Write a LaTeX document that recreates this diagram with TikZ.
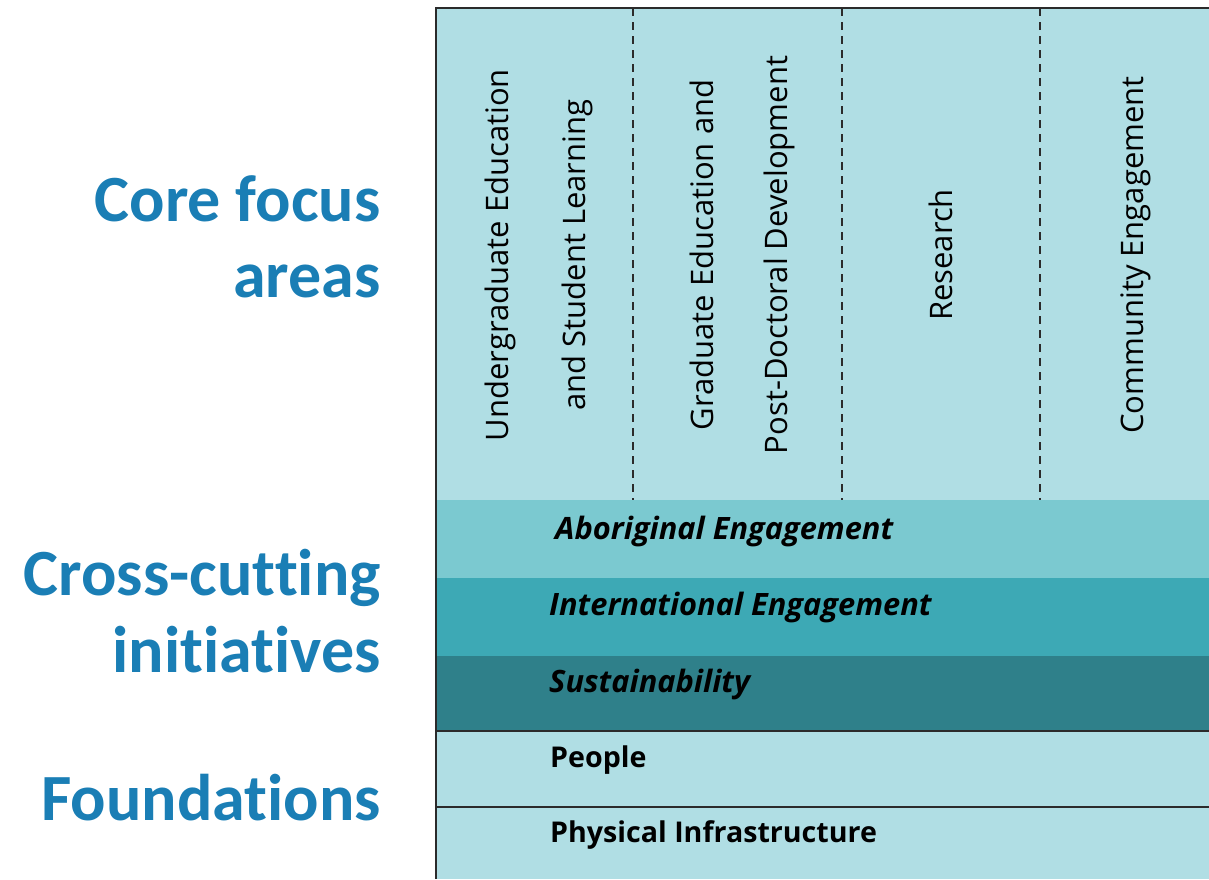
\documentclass[tikz,border=0pt]{standalone}
\usepackage{fontspec}
\setmainfont{Open Sans}
\newfontfamily\headfont[Ligatures=NoCommon]{Carlito}
\definecolor{areablue}{HTML}{B0DEE4}
\definecolor{aborigband}{HTML}{7BC9D0}
\definecolor{intlband}{HTML}{3DA9B5}
\definecolor{sustband}{HTML}{2F808A}
\definecolor{headblue}{HTML}{1A7EB5}
\definecolor{rulegray}{HTML}{2B2B2B}
\tikzset{
  heading/.style = {anchor=base east, inner sep=0pt, text=headblue,
    font=\headfont\bfseries\fontsize{66}{76}\selectfont},
  focus/.style = {anchor=base, rotate=90, inner sep=0pt,
    font=\fontsize{31}{36}\selectfont},
  initiative/.style = {anchor=base west, inner sep=0pt,
    font=\bfseries\itshape\fontsize{30.8}{34}\selectfont},
  foundation/.style = {anchor=base west, inner sep=0pt,
    font=\bfseries\fontsize{28.6}{34}\selectfont},
  divider/.style = {rulegray, line width=2pt, dash pattern=on 8pt off 6pt},
  rowline/.style = {rulegray, line width=2.5pt}
}
\begin{document}
\begin{tikzpicture}[x=1pt, y=-1pt]
		\useasboundingbox (0, 0) rectangle (1209, 879);
		% fields
		\fill[areablue] (436, 8) rectangle (1209, 879);
		\fill[aborigband] (436, 500) rectangle (1209, 578);
		\fill[intlband] (436, 578) rectangle (1209, 656);
		\fill[sustband] (436, 656) rectangle (1209, 731);
		% column dividers
		\foreach \x in {633, 842, 1040}
			\draw[divider] (\x, 8) -- (\x, 500);
		% row lines
		\draw[rowline] (436, 731) -- (1209, 731);
		\draw[rowline] (436, 807) -- (1209, 807);
		% frame
		\draw[rulegray, line width=2pt] (436, 879) -- (436, 8) -- (1209, 8);
		% headings
		\node[heading] (core1) at (381, 221) {Core focus};
		\node[heading] (core2) at (381, 297) {areas};
		\node[heading] (cross1) at (381, 595) {Cross-cutting};
		\node[heading] (cross2) at (381, 672) {initiatives};
		\node[heading] (found) at (381, 820) {Foundations};
		% core focus areas
		\node[focus] (ugrad1) at (508, 255) {Undergraduate Education};
		\node[focus] (ugrad2) at (585, 255) {and Student Learning};
		\node[focus] (grad1) at (713, 255) {Graduate Education and};
		\node[focus] (grad2) at (787, 255) {Post-Doctoral Development};
		\node[focus] (research) at (952, 255) {Research};
		\node[focus] (community) at (1143, 255) {Community Engagement};
		% cross-cutting initiatives
		\node[initiative] (aborig) at (555, 539) {Aboriginal Engagement};
		\node[initiative] (intl) at (549, 615) {International Engagement};
		\node[initiative] (sust) at (549, 692) {Sustainability};
		% foundations
		\node[foundation] (people) at (550, 767) {People};
		\node[foundation] (infra) at (550, 842) {Physical Infrastructure};
	\end{tikzpicture}
\end{document}
